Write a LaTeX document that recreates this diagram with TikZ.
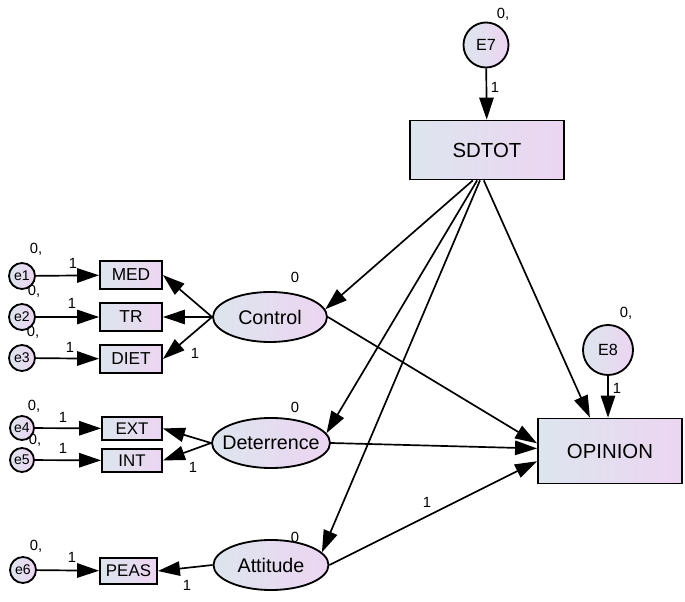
\documentclass[tikz,border=0pt]{standalone}
\usepackage{fontspec}
\setmainfont{Liberation Sans}
\usepackage{tikz}
\usetikzlibrary{arrows.meta,shapes.geometric,calc}
\definecolor{fillL}{RGB}{221,229,238}
\definecolor{fillR}{RGB}{236,213,241}

\begin{document}
\begin{tikzpicture}[x=0.025cm,y=-0.025cm,>={Triangle[length=0.55cm,width=0.36cm]},
  obs/.style={draw,line width=1.3pt,left color=fillL,right color=fillR,inner sep=0pt},
  lat/.style={draw,ellipse,line width=1.3pt,left color=fillL,right color=fillR,inner sep=0pt,font=\fontsize{14}{16}\selectfont},
  err/.style={draw,circle,line width=1.3pt,left color=fillL,right color=fillR,inner sep=0pt,font=\fontsize{10}{11}\selectfont},
  lbl/.style={inner sep=0pt,font=\fontsize{10.5}{12}\selectfont},
  path/.style={->,line width=1.2pt}]
\useasboundingbox (0,0) rectangle (685,602);
\node[obs,minimum width=3.85cm,minimum height=1.475cm,font=\fontsize{14.5}{16}\selectfont] (SDTOT) at (487,150) {SDTOT};
\node[obs,minimum width=3.6cm,minimum height=1.625cm,font=\fontsize{14.5}{16}\selectfont] (OPINION) at (610,451) {OPINION};
\node[err,minimum size=1.125cm,font=\fontsize{11.5}{12}\selectfont] (E7) at (486,45) {E7};
\node[err,minimum size=1.25cm,font=\fontsize{11.5}{12}\selectfont] (E8) at (608,350) {E8};
\node[lat,minimum width=2.85cm,minimum height=1.25cm] (Control) at (270,317) {\makebox[0pt]{Control}};
\node[lat,minimum width=2.95cm,minimum height=1.25cm] (Deterrence) at (271,443) {\makebox[0pt]{Deterrence}};
\node[lat,minimum width=2.875cm,minimum height=1.25cm] (Attitude) at (271,565) {\makebox[0pt]{Attitude}};
\node[obs,minimum width=1.55cm,minimum height=0.7cm,font=\fontsize{12.3}{13}\selectfont] (MED) at (131,275) {MED};
\node[obs,minimum width=1.55cm,minimum height=0.7cm,font=\fontsize{12.3}{13}\selectfont] (TR) at (131,317) {TR};
\node[obs,minimum width=1.55cm,minimum height=0.7cm,font=\fontsize{12.3}{13}\selectfont] (DIET) at (131,359) {DIET};
\node[obs,minimum width=1.5cm,minimum height=0.575cm,font=\fontsize{12}{13}\selectfont] (EXT) at (132,428.5) {EXT};
\node[obs,minimum width=1.5cm,minimum height=0.575cm,font=\fontsize{12}{13}\selectfont] (INT) at (132,460.5) {INT};
\node[obs,minimum width=1.425cm,minimum height=0.65cm,font=\fontsize{12}{13}\selectfont] (PEAS) at (128.5,571) {\makebox[0pt]{PEAS}};
\node[err,minimum size=0.65cm] (e1) at (22,276) {e1};
\node[err,minimum size=0.65cm] (e2) at (22,317) {e2};
\node[err,minimum size=0.65cm] (e3) at (22,358) {e3};
\node[err,minimum size=0.6cm] (e4) at (22,428) {e4};
\node[err,minimum size=0.6cm] (e5) at (22,460) {e5};
\node[err,minimum size=0.65cm] (e6) at (23,570) {e6};
\node[lbl] (vE7) at (503,14) {0,};
\node[lbl] (vE8) at (626,313) {0,};
\node[lbl] (v1) at (36,249) {0,};
\node[lbl] (v2) at (34,291) {0,};
\node[lbl] (v3) at (33,332) {0,};
\node[lbl] (v4) at (34,406) {0,};
\node[lbl] (v5) at (35,440) {0,};
\node[lbl] (v6) at (36,546) {0,};
\node[lbl] (mC) at (295,277) {0};
\node[lbl] (mD) at (295,407) {0};
\node[lbl] (mA) at (295,537) {0};
\draw[path] (E7) -- (SDTOT);
\draw[path] (E8.south) -- (E8.south |- OPINION.north);
\draw[path] (e1) -- (MED);
\draw[path] (e2) -- (TR);
\draw[path] (e3) -- (DIET);
\draw[path] (e4) -- (EXT);
\draw[path] (e5) -- (INT);
\draw[path] (e6) -- (PEAS);
\draw[path] (Control.west) -- (MED.east);
\draw[path] (Control.west) -- (TR.east);
\draw[path] (Control.west) -- (DIET.east);
\draw[path] (Deterrence.west) -- (EXT.east);
\draw[path] (Deterrence.west) -- (INT.east);
\draw[path] (Attitude.west) -- (PEAS.east);
\draw[path] (SDTOT.245) -- (Control.8);
\draw[path] (SDTOT.252) -- (Deterrence.10);
\draw[path] (SDTOT.257) -- (Attitude.14);
\draw[path] (SDTOT.264) -- (OPINION.121);
\draw[path] (Control.east) -- (OPINION.174);
\draw[path] (Deterrence.east) -- (OPINION.178);
\draw[path] (Attitude.east) -- (OPINION.188);
\node[lbl] (wE7) at (495,87) {1};
\node[lbl] (wE8) at (617,388) {1};
\node[lbl] (w1) at (73,263) {1};
\node[lbl] (w2) at (72,303) {1};
\node[lbl] (w3) at (70,347) {1};
\node[lbl] (wDIET) at (195,353) {1};
\node[lbl] (w4) at (63,417) {1};
\node[lbl] (w5) at (63,448) {1};
\node[lbl] (wINT) at (193,467) {1};
\node[lbl] (w6) at (72,557) {1};
\node[lbl] (wPEAS) at (187,585) {1};
\node[lbl] (wAtt) at (427,502) {1};
\end{tikzpicture}
\end{document}
